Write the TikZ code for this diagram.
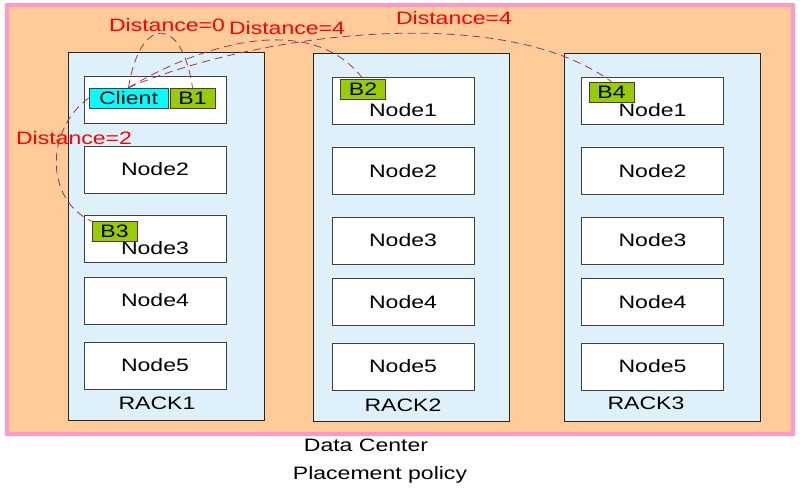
\documentclass[tikz,border=0pt]{standalone}
\usepackage{fontspec}
\setmainfont{Liberation Sans}[FakeStretch=1.28]
\usepackage{tikz}
\usetikzlibrary{positioning}
\definecolor{dcfill}{RGB}{255,204,153}
\definecolor{dcline}{RGB}{255,150,204}
\definecolor{rackfill}{RGB}{222,241,250}
\definecolor{blockgreen}{RGB}{153,204,0}
\definecolor{clientcyan}{RGB}{0,255,255}
\definecolor{distline}{RGB}{153,51,102}
\tikzstyle{datacenter} = [rectangle, 
minimum width=589.5pt, 
minimum height=321.75pt, 
draw=dcline, 
line width=2.6pt, 
fill=dcfill]
\tikzstyle{rack} = [rectangle, 
minimum width=147pt, 
minimum height=276pt, 
draw=black!85, 
fill=rackfill]
\tikzstyle{nodebox} = [rectangle, 
minimum width=106.5pt, 
minimum height=35.25pt, 
text centered, 
draw=black!75, 
fill=white]
\tikzstyle{block} = [rectangle, 
minimum width=33.75pt, 
minimum height=15pt, 
inner sep=0pt, 
text centered, 
draw=black!75, 
fill=blockgreen]
\tikzstyle{client} = [block, 
minimum width=59.25pt, 
fill=clientcyan]
\tikzstyle{distlabel} = [text=red, inner sep=0pt]
\tikzstyle{dist} = [draw=distline, line width=0.6pt, dash pattern=on 6pt off 3.75pt]

\begin{document}
\begin{tikzpicture}[x=0.75pt, y=-0.75pt, font=\fontsize{13.5}{16}\selectfont]
\useasboundingbox (0,0) rectangle (800,499);

\node (dc) [datacenter] at (400,219.5) {};
\node (rack1) [rack] at (166,236) {};
\node (rack2) [rack] at (411.5,237) {};
\node (rack3) [rack] at (662.5,237) {};

% rack 1
\node (r1n1) [nodebox] at (155,99.5) {};
\node (r1n2) [nodebox] at (155,169.5) {Node2};
\node (r1n3) [nodebox, label={[yshift=-6.5pt]center:Node3}] at (155,239) {};
\node (r1n4) [nodebox] at (155,300.5) {Node4};
\node (r1n5) [nodebox] at (155,365.5) {Node5};
\node (rack1lbl) at (157,403) {RACK1};

% rack 2
\node (r2n1) [nodebox, label={[yshift=-7pt]center:Node1}] at (403,100.5) {};
\node (r2n2) [nodebox] at (403,171) {Node2};
\node (r2n3) [nodebox] at (403,240.5) {Node3};
\node (r2n4) [nodebox] at (403,302) {Node4};
\node (r2n5) [nodebox] at (403,366.5) {Node5};
\node (rack2lbl) at (403,405) {RACK2};

% rack 3
\node (r3n1) [nodebox, label={[yshift=-7pt]center:Node1}] at (652.5,100.5) {};
\node (r3n2) [nodebox] at (652.5,171) {Node2};
\node (r3n3) [nodebox] at (652.5,240.5) {Node3};
\node (r3n4) [nodebox] at (652.5,302) {Node4};
\node (r3n5) [nodebox] at (652.5,366.5) {Node5};
\node (rack3lbl) at (646,403) {RACK3};

% client and blocks
\node (client) [client] at (128.5,98) {Client};
\node (b1) [block] at (192.5,98) {B1};
\node (b2) [block] at (363,89) {B2};
\node (b3) [block] at (114.5,231.5) {B3};
\node (b4) [block] at (611.5,92) {B4};

\node (dclbl) at (366,445) {Data Center};
\node (policy) at (380,475) {Placement policy};

% distances
\draw [dist] (client.north) .. controls (140,15) and (182,15) .. (b1.north);
\draw [dist] (client.north) .. controls (200,45) and (310,10) .. (b2.north);
\draw [dist] (client.north) .. controls (250,35) and (500,0) .. (b4.north);
\draw [dist] (client.west) .. controls (45,130) and (45,200) .. (b3.north west);
\node (d0) [distlabel] at (167,25) {Distance=0};
\node (d4a) [distlabel] at (287,28) {Distance=4};
\node (d4b) [distlabel] at (454,18) {Distance=4};
\node (d2) [distlabel] at (74,138) {Distance=2};

\end{tikzpicture}
\end{document}
